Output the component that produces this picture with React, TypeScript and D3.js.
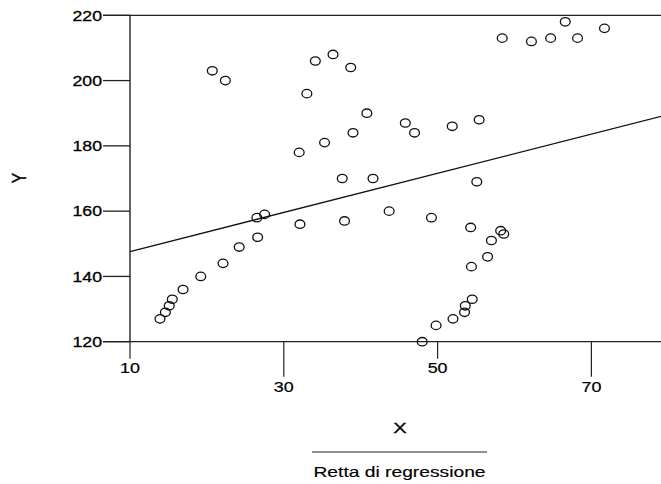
import React from 'react';
import * as d3 from 'd3';

const xValues = [
  13.9, 14.6, 15.1, 15.5, 16.9, 19.2, 20.7, 22.1, 22.4, 24.2,
  26.5, 26.6, 27.5, 32.0, 32.1, 33.0, 34.1, 35.3, 36.4, 37.6,
  37.9, 38.7, 39.0, 40.8, 41.6, 43.7, 45.8, 47.0, 48.0, 49.2,
  49.8, 51.9, 52.0, 53.5, 53.6, 54.3, 54.4, 54.5, 55.1, 55.4,
  56.5, 57.0, 58.2, 58.6, 58.4, 62.2, 64.7, 66.6, 68.2, 71.7,
];
const yValues = [
  127, 129, 131, 133, 136, 140, 203, 144, 200, 149,
  158, 152, 159, 178, 156, 196, 206, 181, 208, 170,
  157, 204, 184, 190, 170, 160, 187, 184, 120, 158,
  125, 186, 127, 129, 131, 155, 143, 133, 169, 188,
  146, 151, 154, 153, 213, 212, 213, 218, 213, 216,
];
const xTicks = [10, 30, 50, 70];
const yTicks = [120, 140, 160, 180, 200, 220];
const regCoef = [141.6, 0.6]; // intercetta, pendenza
const xTitle = 'X';
const yTitle = 'Y';
const legendLabel = 'Retta di regressione';

const FONT = 'Liberation Sans, Arial, sans-serif';

export default function App() {
  const width = 661;
  const height = 484;

  const x = d3.scaleLinear().domain([10, 80]).range([130, 668.3]);
  const y = d3.scaleLinear().domain([120, 220]).range([341.7, 15.3]);

  const regLine = d3.line<number>()
    .x((d) => x(d))
    .y((d) => y(regCoef[0] + regCoef[1] * d));

  const left = x(10);
  const bottom = y(120);

  return (
    <svg
      width={width}
      height={height}
      style={{ position: 'absolute', left: 0, top: 0, background: '#fff' }}
      fontFamily={FONT}
    >
      <rect width={width} height={height} fill="#fff" />

      {/* cornice */}
      <line x1={103} x2={width} y1={y(220)} y2={y(220)} stroke="#222" strokeWidth={1.3} />
      <line x1={103} x2={width} y1={bottom} y2={bottom} stroke="#222" strokeWidth={1.3} />
      <line x1={left} x2={left} y1={y(220)} y2={bottom} stroke="#111" strokeWidth={1.3} />

      {/* asse y */}
      {yTicks.map((t) => (
        <g key={`y${t}`}>
          <line x1={103} x2={left} y1={y(t)} y2={y(t)} stroke="#222" strokeWidth={1.3} />
          <text
            transform={`translate(102,${y(t) + 5.3}) scale(1.22,1)`}
            textAnchor="end"
            fontSize={14.5}
            fill="#000"
            stroke="#000"
            strokeWidth={0.3}
          >
            {t}
          </text>
        </g>
      ))}

      {/* asse x, etichette sfalsate */}
      {xTicks.map((t, i) => {
        const long = i % 2 === 1;
        const tickEnd = bottom + (long ? 35 : 17);
        const base = long ? 391.7 : 373.3;
        return (
          <g key={`x${t}`}>
            <line x1={x(t)} x2={x(t)} y1={bottom} y2={tickEnd} stroke="#222" strokeWidth={1.2} />
            <text
              transform={`translate(${x(t)},${base}) scale(1.28,1)`}
              textAnchor="middle"
              fontSize={14}
              fill="#000"
              stroke="#000"
              strokeWidth={0.2}
            >
              {t}
            </text>
          </g>
        );
      })}

      {/* retta di regressione */}
      <path d={regLine([10, 80]) ?? ''} fill="none" stroke="#111" strokeWidth={1.3} />

      {/* punti */}
      {xValues.map((xv, i) => (
        <ellipse
          key={i}
          cx={x(xv)}
          cy={y(yValues[i])}
          rx={4.9}
          ry={4.2}
          fill="none"
          stroke="#111"
          strokeWidth={1.3}
        />
      ))}

      {/* titoli */}
      <text
        transform={`translate(400,432.7) scale(1.3,1)`}
        textAnchor="middle"
        fontSize={15.5}
        fill="#000"
        stroke="#000"
        strokeWidth={0.3}
      >
        {xTitle}
      </text>
      <text
        transform={`translate(26,178) rotate(-90) scale(1,1.3)`}
        textAnchor="middle"
        fontSize={15.5}
        fill="#000"
        stroke="#000"
        strokeWidth={0.3}
      >
        {yTitle}
      </text>

      {/* legenda */}
      <line x1={312} x2={487} y1={452} y2={452} stroke="#222" strokeWidth={1.2} />
      <text
        transform={`translate(399.5,476.7) scale(1.3,1)`}
        textAnchor="middle"
        fontSize={14.8}
        fill="#000"
        stroke="#000"
        strokeWidth={0.15}
      >
        {legendLabel}
      </text>
    </svg>
  );
}
